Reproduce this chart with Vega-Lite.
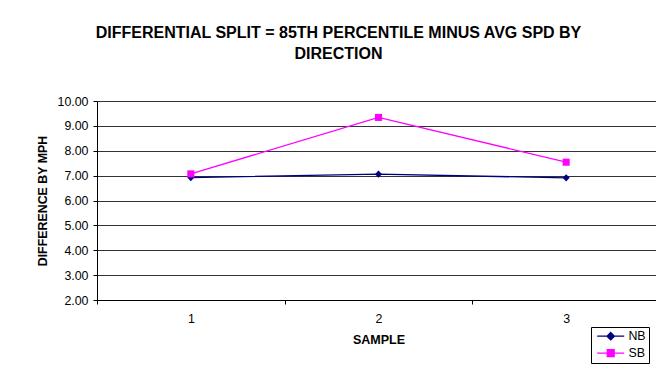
{
  "$schema": "https://vega.github.io/schema/vega-lite/v6.json",
  "autosize": {"type": "none"},
  "width": 563,
  "height": 199,
  "padding": {"left": 97, "top": 101, "right": 0, "bottom": 74},
  "background": "white",
  "config": {
    "font": "Liberation Sans",
    "view": {"stroke": null},
    "axis": {"labelFont": "Liberation Sans", "titleFont": "Liberation Sans", "labelColor": "black", "titleColor": "black", "domainColor": "black", "tickColor": "black", "labelFontSize": 12.4}
  },
  "title": {
    "text": ["DIFFERENTIAL SPLIT = 85TH PERCENTILE MINUS AVG SPD BY", "DIRECTION"],
    "font": "Liberation Sans",
    "fontSize": 16,
    "fontWeight": "bold",
    "color": "black",
    "anchor": "middle",
    "dx": -40,
    "offset": 33,
    "lineHeight": 21
  },
  "data": {
    "values": [
      {"sample": "1", "dir": "NB", "diff": 6.92},
      {"sample": "2", "dir": "NB", "diff": 7.06},
      {"sample": "3", "dir": "NB", "diff": 6.91},
      {"sample": "1", "dir": "SB", "diff": 7.07},
      {"sample": "2", "dir": "SB", "diff": 9.34},
      {"sample": "3", "dir": "SB", "diff": 7.54}
    ]
  },
  "encoding": {
    "x": {
      "field": "sample", "type": "ordinal",
      "scale": {"type": "band", "paddingInner": 0, "paddingOuter": 0},
      "axis": {"title": "SAMPLE", "titleFontSize": 12.5, "titleFontWeight": "bold", "titlePadding": 9, "labelAngle": 0, "labelPadding": 8, "tickBand": "extent", "tickSize": 4, "grid": false, "domainWidth": 1}
    },
    "y": {
      "field": "diff", "type": "quantitative",
      "scale": {"domain": [2, 10], "nice": false, "zero": false},
      "axis": {"title": "DIFFERENCE BY MPH", "titleFontSize": 12.4, "titleFontWeight": "bold", "titlePadding": 7, "format": ".2f", "values": [2,3,4,5,6,7,8,9,10], "tickSize": 4, "labelPadding": 5, "grid": true, "gridColor": "#333333", "gridWidth": 1, "domainWidth": 1}
    }
  },
  "layer": [
    {
      "mark": {"type": "line", "strokeWidth": 1.3},
      "encoding": {
        "color": {
          "field": "dir", "type": "nominal",
          "scale": {"domain": ["NB", "SB"], "range": ["#000080", "#FF00FF"]},
          "legend": {
            "title": null,
            "orient": "none",
            "legendX": 494,
            "legendY": 226,
            "strokeColor": "black",
            "padding": 3,
            "symbolSize": 100,
            "symbolStrokeWidth": 1.2,
            "symbolOpacity": 1,
            "symbolType": {"expr": "datum.value === 'NB' ? 'M-0.6,0L4.8,0M2.1,-0.75L2.85,0L2.1,0.75L1.35,0Z' : 'M-0.6,0L4.8,0M1.4,-0.7L2.8,-0.7L2.8,0.7L1.4,0.7Z'"},
            "symbolFillColor": {"expr": "datum.value === 'NB' ? '#000080' : '#FF00FF'"},
            "labelOffset": 22,
            "rowPadding": 4,
            "labelFontSize": 12.4,
            "labelColor": "black",
            "labelFont": "Liberation Sans"
          }
        }
      }
    },
    {
      "transform": [{"filter": "datum.dir === 'NB'"}],
      "mark": {"type": "point", "filled": true, "opacity": 1, "size": 50, "shape": "diamond"},
      "encoding": {
        "color": {"field": "dir", "type": "nominal", "scale": {"domain": ["NB", "SB"], "range": ["#000080", "#FF00FF"]}, "legend": null}
      }
    },
    {
      "transform": [{"filter": "datum.dir === 'SB'"}],
      "mark": {"type": "point", "filled": true, "opacity": 1, "size": 50, "shape": "square"},
      "encoding": {
        "color": {"field": "dir", "type": "nominal", "scale": {"domain": ["NB", "SB"], "range": ["#000080", "#FF00FF"]}, "legend": null}
      }
    }
  ]
}
